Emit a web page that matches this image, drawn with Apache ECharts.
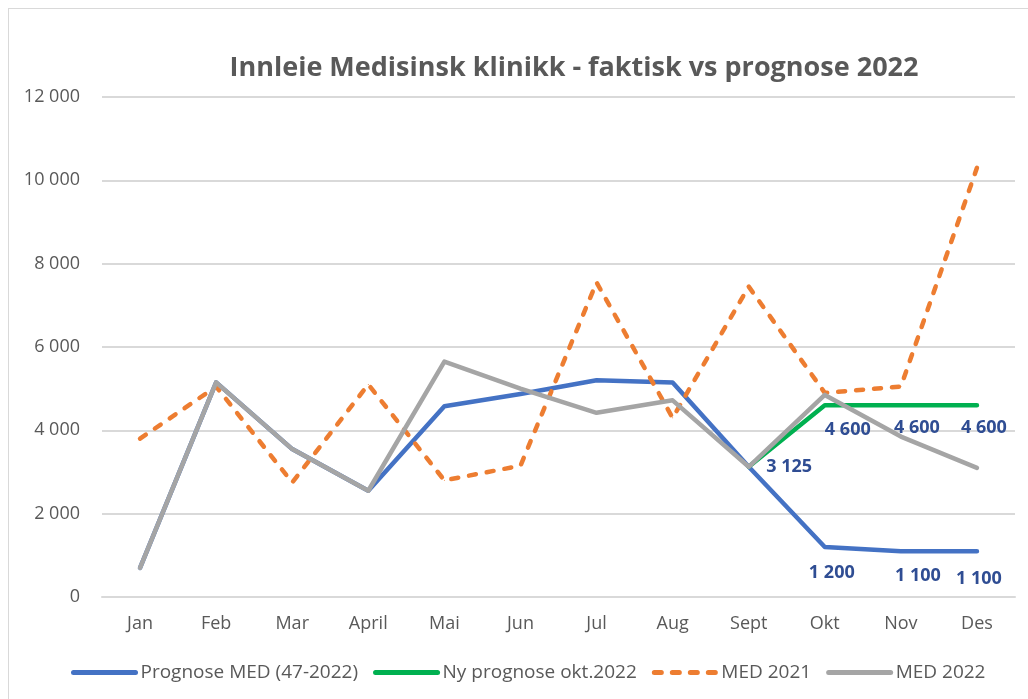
<!DOCTYPE html>
<html>
<head>
<meta charset="utf-8">
<script src="https://cdn.jsdelivr.net/npm/echarts@6/dist/echarts.min.js"></script>
<style>
    html, body { margin: 0; padding: 0; background: #fff; }
    #frame { position: absolute; left: 8px; top: 8px; width: 1030px; height: 700px; border: 1px solid #d9d9d9; box-sizing: border-box; }
    #chart { position: absolute; left: 0; top: 0; width: 1028px; height: 699px; }
</style>
</head>
<body>
<div id="frame"></div>
<div id="chart"></div>
<script>
const months = ['Jan', 'Feb', 'Mar', 'April', 'Mai', 'Jun', 'Jul', 'Aug', 'Sept', 'Okt', 'Nov', 'Des'];

// verdier lest av figuren
const prognoseMed = [700, 5150, 3550, 2550, 4580, 4870, 5200, 5150, 3125, 1200, 1100, 1100];
const nyPrognose = [null, null, null, null, null, null, null, null, 3125, 4600, 4600, 4600];
const med2021 = [3800, 5050, 2750, 5100, 2800, 3150, 7550, 4300, 7450, 4900, 5050, 10300];
const med2022 = [700, 5150, 3550, 2550, 5650, 5000, 4420, 4720, 3125, 4850, 3850, 3100];

// hvilke punkter som har dataetikett
const prognoseLabels = [8, 9, 10, 11];
const nyLabels = [9, 10, 11];

const fmt = v => String(v).replace(/\B(?=(\d{3})+(?!\d))/g, ' ');
const font = '"Open Sans", "Liberation Sans", sans-serif';
const labelColor = '#2f4d93';

const chart = echarts.init(document.getElementById('chart'));

const labelled = (values, idx, labelOpt) => values.map((v, i) => {
    if (!idx.includes(i) || v == null) return v;
    return { value: v, label: { show: true, ...labelOpt(i) } };
});

// plassering av etikettene slik som i Excel-figuren
const prognosePos = {
    8: { position: 'right', distance: 5, offset: [12, 0] },
    9: { position: 'bottom', distance: 16, offset: [7, 0] },
    10: { position: 'bottom', distance: 15, offset: [17, 0] },
    11: { position: 'bottom', distance: 18, offset: [2, 0] }
};
const nyPos = {
    9: { position: 'bottom', distance: 15, offset: [23, 0] },
    10: { position: 'bottom', distance: 13, offset: [16, 0] },
    11: { position: 'bottom', distance: 13, offset: [7, 0] }
};
const prognoseData = labelled(prognoseMed, prognoseLabels, i => prognosePos[i]);
const nyData = labelled(nyPrognose, nyLabels, i => nyPos[i]);

const baseLabel = {
    show: false, color: labelColor, fontSize: 18, fontWeight: 'bold', fontFamily: font,
    formatter: p => fmt(p.value)
};

const lineSeries = (name, data, color, extra) => ({
    name, type: 'line', data, color,
    symbol: 'circle', symbolSize: 1, showSymbol: true,
    lineStyle: { width: 4.5, cap: 'round', join: 'round', color, ...(extra || {}) },
    label: baseLabel
});

chart.setOption({
    animation: false,
    title: {
        text: 'Innleie Medisinsk klinikk - faktisk vs prognose 2022',
        left: 569, top: 50, textAlign: 'center',
        textStyle: { color: '#595959', fontSize: 27, fontWeight: 'bold', fontFamily: font }
    },
    legend: {
        bottom: 12, left: 66, itemGap: 15, itemWidth: 62, itemHeight: 14,
        lineStyle: { width: 5, cap: 'round' },
        itemStyle: { opacity: 0 },
        textStyle: { color: '#595959', fontSize: 19, fontFamily: font },
        data: ['Prognose MED (47-2022)', 'Ny prognose okt.2022', 'MED 2021', 'MED 2022']
    },
    grid: { left: 102, right: 13, top: 97, bottom: 102 },
    xAxis: {
        type: 'category', data: months, boundaryGap: true,
        axisLine: { show: true, lineStyle: { color: '#d9d9d9', width: 2 } },
        axisTick: { show: false },
        axisLabel: { color: '#595959', fontSize: 18, fontFamily: font, margin: 18 }
    },
    yAxis: {
        type: 'value', min: 0, max: 12000, interval: 2000,
        axisLine: { show: false }, axisTick: { show: false },
        splitLine: { lineStyle: { color: '#d9d9d9', width: 2 } },
        axisLabel: { color: '#595959', fontSize: 18, fontFamily: font, margin: 22, formatter: v => fmt(v) }
    },
    series: [
        { ...lineSeries('Prognose MED (47-2022)', prognoseData, '#4472c4'), z: 2 },
        { ...lineSeries('Ny prognose okt.2022', nyData, '#00b050'), z: 3 },
        { ...lineSeries('MED 2021', med2021, '#ed7d31', { type: [7, 11] }), z: 4 },
        { ...lineSeries('MED 2022', med2022, '#a5a5a5'), z: 5 }
    ]
});
</script>
</body>
</html>
